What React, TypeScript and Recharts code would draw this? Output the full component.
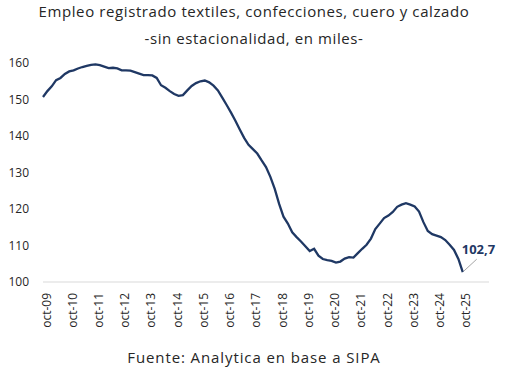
import { LineChart, Line, XAxis, YAxis } from "recharts";

// month index counted from oct-09, sampled every two months
const months = [
  0, 2, 4, 6, 8, 10, 12, 14, 16, 18, 20, 22, 24, 26, 28, 30, 32, 34, 36, 38,
  40, 42, 44, 46, 48, 50, 52, 54, 56, 58, 60, 62, 64, 66, 68, 70, 72, 74, 76, 78,
  80, 82, 84, 86, 88, 90, 92, 94, 96, 98, 100, 102, 104, 106, 108, 110, 112, 114, 116, 118,
  120, 122, 124, 126, 128, 130, 132, 134, 136, 138, 140, 142, 144, 146, 148, 150, 152, 154, 156, 158,
  160, 162, 164, 166, 168, 170, 172, 174, 176, 178, 180, 182, 184, 186, 188, 190, 192,
];

// empleo registrado, miles
const empleo = [
  150.7, 152.3, 153.6, 155.3, 155.9, 157.0, 157.7, 158.0, 158.5, 158.9, 159.2, 159.5, 159.6, 159.4, 159.0, 158.6, 158.7, 158.5, 158.0, 158.0,
  157.9, 157.5, 157.1, 156.7, 156.7, 156.6, 155.9, 153.9, 153.2, 152.3, 151.5, 151.0, 151.2, 152.5, 153.7, 154.5, 155.0, 155.2, 154.7, 153.8,
  152.5, 150.5, 148.5, 146.4, 144.2, 141.8, 139.5, 137.6, 136.4, 135.2, 133.3, 131.5, 128.8, 125.5, 121.4, 117.9, 116.0, 113.6, 112.3, 111.1,
  109.8, 108.5, 109.1, 107.2, 106.3, 106.0, 105.8, 105.3, 105.6, 106.4, 106.8, 106.7, 107.9, 109.1, 110.2, 111.9, 114.5, 116.0, 117.5, 118.2,
  119.2, 120.6, 121.2, 121.6, 121.2, 120.7, 119.3, 116.4, 114.0, 113.1, 112.7, 112.3, 111.5, 110.2, 108.8, 106.3, 102.7,
];

const tickMonths = [0, 12, 24, 36, 48, 60, 72, 84, 96, 108, 120, 132, 144, 156, 168, 180, 192];
const tickLabels = [
  "oct-09", "oct-10", "oct-11", "oct-12", "oct-13", "oct-14", "oct-15", "oct-16", "oct-17",
  "oct-18", "oct-19", "oct-20", "oct-21", "oct-22", "oct-23", "oct-24", "oct-25",
];
const yTicks = [100, 110, 120, 130, 140, 150, 160];

const data = months.map((m, i) => ({ m, v: empleo[i] }));

const FONT = "'Open Sans', sans-serif";
const NAVY = "#1f3864";

const XTick = ({ x, y, payload }: any) => {
  const label = tickLabels[tickMonths.indexOf(payload.value)];
  return (
    <text
      x={x + 3}
      y={y}
      transform={`rotate(-90, ${x + 3}, ${y})`}
      textAnchor="end"
      dominantBaseline="central"
      fontSize={12}
      fill="#262626"
      fontFamily={FONT}
    >
      {label}
    </text>
  );
};

const LastLabel = ({ x, y, index }: any) => {
  if (index !== data.length - 1) return null;
  return (
    <g>
      <line x1={x + 1} y1={y - 1} x2={x + 14} y2={y - 13} stroke="#a6a6a6" strokeWidth={1} />
      <text x={x - 1} y={y - 18} fontSize={13} fontWeight={700} fill={NAVY} fontFamily={FONT}>
        {empleo[empleo.length - 1].toFixed(1).replace(".", ",")}
      </text>
    </g>
  );
};

export default function App() {
  return (
    <div style={{ position: "absolute", left: 0, top: 0, width: 508, height: 380, background: "#fff", fontFamily: FONT }}>
      <div
        style={{
          position: "absolute",
          top: -2,
          left: 0,
          width: 508,
          textAlign: "center",
          fontSize: 15,
          letterSpacing: 0.6,
          color: "#262626",
          lineHeight: "27px",
        }}
      >
        Empleo registrado textiles, confecciones, cuero y calzado
        <br />
        -sin estacionalidad, en miles-
      </div>
      <LineChart width={508} height={380} data={data} margin={{ top: 63, right: 19, left: 8, bottom: 0 }}>
        <XAxis
          dataKey="m"
          type="number"
          domain={[0, 204]}
          ticks={tickMonths}
          interval={0}
          tick={<XTick />}
          tickLine={false}
          axisLine={{ stroke: "#d9d9d9" }}
          tickSize={4}
          tickMargin={7}
          height={98}
        />
        <YAxis
          domain={[100, 160]}
          ticks={yTicks}
          interval={0}
          axisLine={false}
          tickLine={false}
          tickMargin={8}
          width={35}
          tick={{ fill: "#262626", fontSize: 12, fontFamily: FONT }}
        />
        <Line
          type="linear"
          dataKey="v"
          stroke={NAVY}
          strokeWidth={2.3}
          dot={false}
          isAnimationActive={false}
          label={<LastLabel />}
        />
      </LineChart>
      <div
        style={{
          position: "absolute",
          top: 347,
          left: 0,
          width: 508,
          textAlign: "center",
          fontSize: 15,
          letterSpacing: 0.9,
          color: "#262626",
        }}
      >
        Fuente: Analytica en base a SIPA
      </div>
    </div>
  );
}
